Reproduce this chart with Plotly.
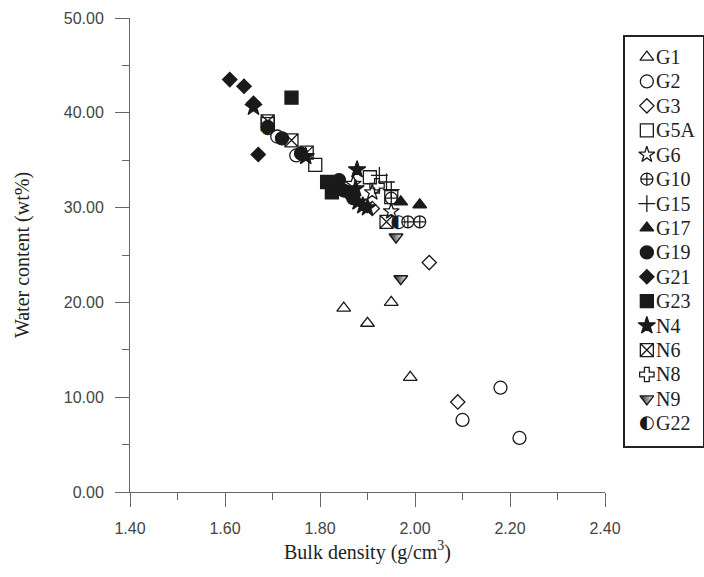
import plotly.graph_objects as go

# ---- data (bulk density g/cm3, water content wt%) ----
G1_x = [1.85, 1.90, 1.95, 1.99]
G1_y = [19.4, 17.8, 20.0, 12.1]
G2_x = [2.10, 2.18, 2.22, 1.71, 1.75]
G2_y = [7.6, 11.0, 5.7, 37.5, 35.5]
G3_x = [2.03, 2.09, 1.91]
G3_y = [24.2, 9.5, 29.9]
G5A_x = [1.79, 1.905, 1.95, 1.69]
G5A_y = [34.5, 33.2, 31.1, 38.8]
G6_x = [1.91, 1.95, 1.87]
G6_y = [31.6, 29.6, 32.5]
G10_x = [1.95, 1.985, 2.01]
G10_y = [31.0, 28.5, 28.5]
G15_x = [1.925, 1.94, 1.95]
G15_y = [33.4, 32.7, 31.9]
G17_x = [1.97, 2.01]
G17_y = [30.6, 30.3]
G19_x = [1.69, 1.72, 1.76, 1.84, 1.85, 1.87]
G19_y = [38.5, 37.3, 35.7, 32.9, 31.8, 31.0]
G21_x = [1.61, 1.64, 1.66, 1.67, 1.86]
G21_y = [43.5, 42.8, 41.0, 35.6, 31.5]
G23_x = [1.74, 1.815, 1.825, 1.835]
G23_y = [41.6, 32.7, 31.6, 32.3]
N4_x = [1.66, 1.77, 1.878, 1.875, 1.88, 1.89, 1.90]
N4_y = [40.6, 35.4, 34.0, 32.0, 30.6, 30.2, 30.0]
N6_x = [1.69, 1.74, 1.772, 1.94]
N6_y = [39.1, 37.1, 35.8, 28.5]
N8_x = [1.92]
N8_y = [32.3]
N9_x = [1.96, 1.97]
N9_y = [26.9, 22.5]
G22_x = [1.69, 1.965]
G22_y = [38.3, 28.4]

X_RANGE = [1.40, 2.40]
Y_RANGE = [0, 50]

# name, x, y, symbol (or glyph for half-filled), size
series = [
    ("G1", G1_x, G1_y, "triangle-up-open", 12),
    ("G2", G2_x, G2_y, "circle-open", 13),
    ("G3", G3_x, G3_y, "diamond-open", 11),
    ("G5A", G5A_x, G5A_y, "square-open", 13),
    ("G6", G6_x, G6_y, "star-open", 12),
    ("G10", G10_x, G10_y, "circle-cross-open", 12),
    ("G15", G15_x, G15_y, "cross-thin-open", 12),
    ("G17", G17_x, G17_y, "triangle-up", 12),
    ("G19", G19_x, G19_y, "circle", 13),
    ("G21", G21_x, G21_y, "diamond", 11),
    ("G23", G23_x, G23_y, "square", 13),
    ("N4", N4_x, N4_y, "star", 13),
    ("N6", N6_x, N6_y, "square-x-open", 13),
    ("N8", N8_x, N8_y, "cross-open", 12),
    ("N9", N9_x, N9_y, "half:triangle-down", 12),
    ("G22", G22_x, G22_y, "glyph:\u25d0", 18),
]

INK = "#1a1a1a"
SERIF = "Liberation Serif, Times New Roman, serif"

fig = go.Figure()

W, H = 704, 577
L, R, T, B = 130, 0, 18, 85.3
PW = W - L - R
PH = H - T - B
main_x_dom = [0, 475 / PW]
leg_x_dom = [(625 - L) / PW, (703 - L) / PW]
leg_y_dom = [(H - B - 446) / PH, (H - B - 37) / PH]
n = len(series)


def make_marker(sym, size):
    if sym.startswith("half:"):
        return dict(symbol=sym.split(":", 1)[1], size=size, color=INK,
                    gradient=dict(type="horizontal", color="white"),
                    line=dict(color=INK, width=1.4))
    return dict(symbol=sym, size=size, color=INK, line=dict(color=INK, width=1.3))


LEG_X = 0.28
for i, (name, xs, ys, sym, size) in enumerate(series):
    if sym.startswith("glyph:"):
        g = sym.split(":", 1)[1]
        tf = dict(family="DejaVu Sans", size=size, color=INK)
        fig.add_trace(go.Scatter(x=xs, y=ys, mode="text", text=[g] * len(xs), name=name,
                                 textposition="middle center", showlegend=False, textfont=tf))
        fig.add_trace(go.Scatter(x=[LEG_X], y=[i], mode="text", text=[g], showlegend=False,
                                 textposition="middle center", hoverinfo="skip", textfont=tf,
                                 xaxis="x2", yaxis="y2"))
    else:
        fig.add_trace(go.Scatter(x=xs, y=ys, mode="markers", name=name, showlegend=False,
                                 marker=make_marker(sym, size)))
        fig.add_trace(go.Scatter(x=[LEG_X], y=[i], mode="markers", showlegend=False,
                                 hoverinfo="skip", marker=make_marker(sym, size),
                                 xaxis="x2", yaxis="y2"))
    fig.add_annotation(x=LEG_X, y=i, xref="x2", yref="y2", text=name, showarrow=False,
                       xanchor="left", yanchor="middle", xshift=7,
                       font=dict(family=SERIF, size=20, color="#222"))

axis_common = dict(
    showgrid=False, zeroline=False, showline=True, linecolor="#666", linewidth=1,
    ticks="outside", tickcolor="#666", tickwidth=1, ticklen=14,
    tickformat=".2f",
    tickfont=dict(family="Liberation Sans, Arial, sans-serif", size=16, color="#444"),
    ticklabelstandoff=8,
)

fig.update_layout(
    xaxis=dict(domain=main_x_dom, range=X_RANGE, dtick=0.2, tick0=1.4,
               minor=dict(ticks="outside", ticklen=7, dtick=0.1, tickcolor="#666"),
               title=dict(text="Bulk density (g/cm<sup>3</sup>)",
                          font=dict(family=SERIF, size=20, color="#222"), standoff=8),
               **axis_common),
    yaxis=dict(range=Y_RANGE, dtick=10, tick0=0,
               minor=dict(ticks="outside", ticklen=7, dtick=5, tickcolor="#666"),
               title=dict(text="Water content (wt%)",
                          font=dict(family=SERIF, size=20, color="#222"), standoff=28),
               **axis_common),
    xaxis2=dict(domain=leg_x_dom, range=[0, 1], anchor="y2", showgrid=False, zeroline=False,
                showticklabels=False, ticks="", showline=True, mirror=True,
                linecolor="#222", linewidth=1.5, fixedrange=True),
    yaxis2=dict(domain=leg_y_dom, range=[n - 1 + 0.94, -0.82], anchor="x2", showgrid=False,
                zeroline=False, showticklabels=False, ticks="", showline=True, mirror=True,
                linecolor="#222", linewidth=1.5, fixedrange=True),
    width=W, height=H,
    margin=dict(l=L, r=R, t=T, b=B, pad=0, autoexpand=False),
    paper_bgcolor="white", plot_bgcolor="white",
    showlegend=False,
)

fig.write_html("out.html")
